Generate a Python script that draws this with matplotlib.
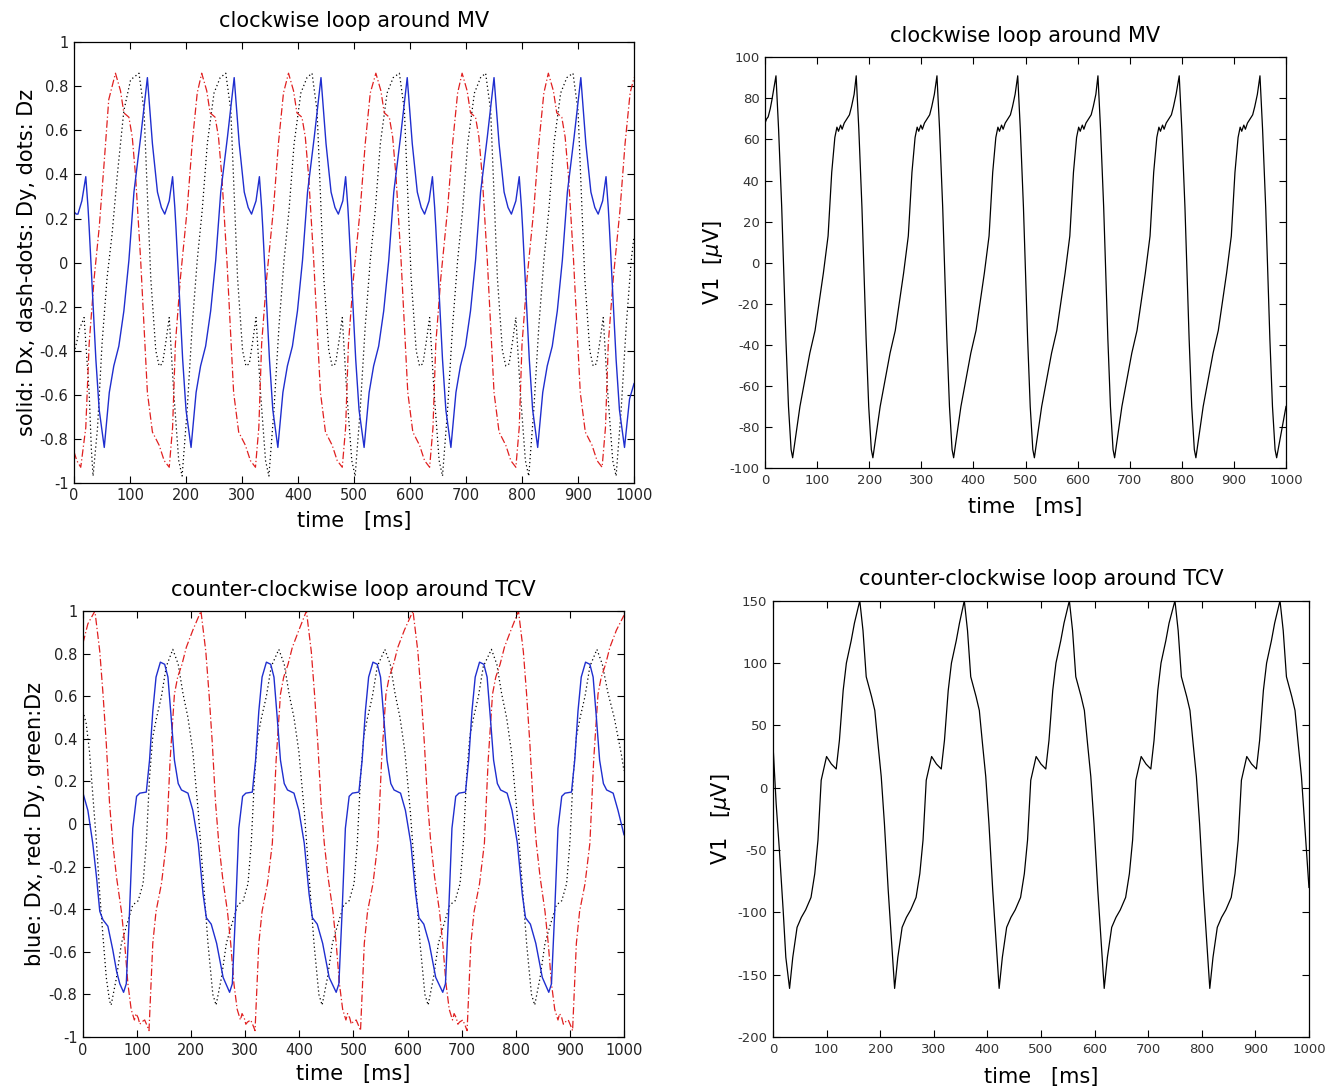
import matplotlib.pyplot as plt

plt.rcParams['font.family'] = 'DejaVu Sans'
plt.rcParams['axes.unicode_minus'] = False

# ---- clockwise loop around MV (top row) ----
tl_dx_t = [0, 4, 7, 14,
           21, 25, 27, 33, 39, 45, 54, 63, 71, 80, 89, 98, 107, 119, 131, 140, 149, 156, 162, 170,
           176, 180, 182, 188, 194, 200, 209, 218, 226, 235, 244, 253, 262, 274, 286, 295, 304, 311, 317, 325,
           331, 335, 337, 343, 349, 355, 364, 373, 381, 390, 399, 408, 417, 429, 441, 450, 459, 466, 472, 480,
           485, 489, 491, 497, 503, 509, 518, 527, 535, 544, 553, 562, 571, 583, 595, 604, 613, 620, 626, 634,
           640, 644, 646, 652, 658, 664, 673, 682, 690, 699, 708, 717, 726, 738, 750, 759, 768, 775, 781, 789,
           795, 799, 801, 807, 813, 819, 828, 837, 845, 854, 863, 872, 881, 893, 905, 914, 923, 930, 936, 944,
           950, 954, 956, 962, 968, 974, 983, 992, 1000]
tl_dx_v = [0.23, 0.22, 0.22, 0.28,
           0.39, 0.25, 0.16, -0.14, -0.44, -0.67, -0.84, -0.59, -0.47, -0.38, -0.22, 0.01, 0.32, 0.57, 0.84, 0.54, 0.32, 0.25, 0.22, 0.28,
           0.39, 0.25, 0.16, -0.14, -0.44, -0.67, -0.84, -0.59, -0.47, -0.38, -0.22, 0.01, 0.32, 0.57, 0.84, 0.54, 0.32, 0.25, 0.22, 0.28,
           0.39, 0.25, 0.16, -0.14, -0.44, -0.67, -0.84, -0.59, -0.47, -0.38, -0.22, 0.01, 0.32, 0.57, 0.84, 0.54, 0.32, 0.25, 0.22, 0.28,
           0.39, 0.25, 0.16, -0.14, -0.44, -0.67, -0.84, -0.59, -0.47, -0.38, -0.22, 0.01, 0.32, 0.57, 0.84, 0.54, 0.32, 0.25, 0.22, 0.28,
           0.39, 0.25, 0.16, -0.14, -0.44, -0.67, -0.84, -0.59, -0.47, -0.38, -0.22, 0.01, 0.32, 0.57, 0.84, 0.54, 0.32, 0.25, 0.22, 0.28,
           0.39, 0.25, 0.16, -0.14, -0.44, -0.67, -0.84, -0.59, -0.47, -0.38, -0.22, 0.01, 0.32, 0.57, 0.84, 0.54, 0.32, 0.25, 0.22, 0.28,
           0.39, 0.25, 0.16, -0.14, -0.44, -0.67, -0.84, -0.62, -0.55]

tl_dy_t = [0, 5, 12, 21, 27, 36, 45, 54, 62,
           74, 83, 89, 98, 104, 110, 119, 125, 131, 140, 152, 161, 170, 176, 181, 190, 202, 211, 220,
           228, 237, 243, 252, 258, 264, 273, 279, 285, 294, 306, 315, 324, 330, 335, 344, 356, 365, 374,
           383, 392, 398, 407, 413, 419, 428, 434, 440, 449, 461, 470, 479, 485, 490, 499, 511, 520, 529,
           539, 548, 554, 563, 569, 575, 584, 590, 596, 605, 617, 626, 635, 641, 646, 655, 667, 676, 685,
           693, 702, 708, 717, 723, 729, 738, 744, 750, 759, 771, 780, 789, 795, 800, 809, 821, 830, 839,
           847, 856, 862, 871, 877, 883, 892, 898, 904, 913, 925, 934, 943, 949, 954, 963, 975, 984, 993, 1000]
tl_dy_v = [-0.86, -0.90, -0.93, -0.75, -0.37, -0.07, 0.16, 0.46, 0.74,
           0.86, 0.78, 0.68, 0.66, 0.57, 0.39, 0.01, -0.29, -0.59, -0.77, -0.83, -0.90, -0.93, -0.75, -0.37, -0.07, 0.24, 0.54, 0.77,
           0.86, 0.78, 0.68, 0.66, 0.57, 0.39, 0.01, -0.29, -0.59, -0.77, -0.83, -0.90, -0.93, -0.75, -0.37, -0.07, 0.24, 0.54, 0.77,
           0.86, 0.78, 0.68, 0.66, 0.57, 0.39, 0.01, -0.29, -0.59, -0.77, -0.83, -0.90, -0.93, -0.75, -0.37, -0.07, 0.24, 0.54, 0.77,
           0.86, 0.78, 0.68, 0.66, 0.57, 0.39, 0.01, -0.29, -0.59, -0.77, -0.83, -0.90, -0.93, -0.75, -0.37, -0.07, 0.24, 0.54, 0.77,
           0.86, 0.78, 0.68, 0.66, 0.57, 0.39, 0.01, -0.29, -0.59, -0.77, -0.83, -0.90, -0.93, -0.75, -0.37, -0.07, 0.24, 0.54, 0.77,
           0.86, 0.78, 0.68, 0.66, 0.57, 0.39, 0.01, -0.29, -0.59, -0.77, -0.83, -0.90, -0.93, -0.75, -0.37, -0.07, 0.24, 0.54, 0.77, 0.84]

tl_dz_t = [0, 5, 10, 18, 27, 31, 34, 42, 50, 59, 68, 77, 89, 101,
           116, 125, 131, 137, 146, 152, 158, 164, 170, 178, 187, 193, 202, 211, 220, 229, 238, 250, 261,
           271, 280, 286, 292, 301, 307, 313, 319, 325, 333, 342, 348, 357, 366, 375, 384, 393, 405, 416,
           425, 434, 440, 446, 455, 461, 467, 473, 479, 487, 496, 502, 511, 520, 529, 538, 547, 559, 570,
           581, 590, 596, 602, 611, 617, 623, 629, 635, 643, 652, 658, 667, 676, 685, 694, 703, 715, 726,
           735, 744, 750, 756, 765, 771, 777, 783, 789, 797, 806, 812, 821, 830, 839, 848, 857, 869, 880,
           891, 900, 906, 912, 921, 927, 933, 939, 945, 953, 962, 968, 977, 986, 995, 1000]
tl_dz_v = [-0.41, -0.36, -0.30, -0.25, -0.59, -0.85, -0.97, -0.75, -0.37, -0.07, 0.13, 0.39, 0.69, 0.83,
           0.86, 0.69, 0.31, -0.07, -0.40, -0.47, -0.46, -0.36, -0.25, -0.59, -0.90, -0.97, -0.67, -0.29, 0.01, 0.24, 0.54, 0.77, 0.84,
           0.86, 0.69, 0.31, -0.07, -0.40, -0.47, -0.46, -0.36, -0.25, -0.59, -0.90, -0.97, -0.67, -0.29, 0.01, 0.24, 0.54, 0.77, 0.84,
           0.86, 0.69, 0.31, -0.07, -0.40, -0.47, -0.46, -0.36, -0.25, -0.59, -0.90, -0.97, -0.67, -0.29, 0.01, 0.24, 0.54, 0.77, 0.84,
           0.86, 0.69, 0.31, -0.07, -0.40, -0.47, -0.46, -0.36, -0.25, -0.59, -0.90, -0.97, -0.67, -0.29, 0.01, 0.24, 0.54, 0.77, 0.84,
           0.86, 0.69, 0.31, -0.07, -0.40, -0.47, -0.46, -0.36, -0.25, -0.59, -0.90, -0.97, -0.67, -0.29, 0.01, 0.24, 0.54, 0.77, 0.84,
           0.86, 0.69, 0.31, -0.07, -0.40, -0.47, -0.46, -0.36, -0.25, -0.59, -0.90, -0.97, -0.67, -0.29, 0.01, 0.12]

tr_v1_t = [0, 3, 6, 10, 13, 17,
           21, 26, 32, 36, 40, 45, 50, 53, 67, 86, 96, 112, 121, 128, 134, 138, 141, 145, 148, 152, 157, 162, 166, 171,
           175, 180, 186, 190, 194, 199, 204, 207, 221, 240, 250, 266, 275, 282, 288, 292, 295, 299, 302, 306, 311, 316, 320, 325,
           330, 335, 341, 345, 349, 354, 359, 362, 376, 395, 405, 421, 430, 437, 443, 447, 450, 454, 457, 461, 466, 471, 475, 480,
           485, 490, 496, 500, 504, 509, 514, 517, 531, 550, 560, 576, 585, 592, 598, 602, 605, 609, 612, 616, 621, 626, 630, 635,
           639, 644, 650, 654, 658, 663, 668, 671, 685, 704, 714, 730, 739, 746, 752, 756, 759, 763, 766, 770, 775, 780, 784, 789,
           795, 800, 806, 810, 814, 819, 824, 827, 841, 860, 870, 886, 895, 902, 908, 912, 915, 919, 922, 926, 931, 936, 940, 945,
           950, 955, 961, 965, 969, 974, 979, 982, 990, 996, 1000]
tr_v1_v = [68, 70, 71, 75, 79, 85,
           91, 65, 27, -5, -37, -70, -91, -95, -70, -44, -33, -5, 13, 44, 61, 66, 64, 67, 65, 68, 70, 72, 76, 82,
           91, 65, 27, -5, -37, -70, -91, -95, -70, -44, -33, -5, 13, 44, 61, 66, 64, 67, 65, 68, 70, 72, 76, 82,
           91, 65, 27, -5, -37, -70, -91, -95, -70, -44, -33, -5, 13, 44, 61, 66, 64, 67, 65, 68, 70, 72, 76, 82,
           91, 65, 27, -5, -37, -70, -91, -95, -70, -44, -33, -5, 13, 44, 61, 66, 64, 67, 65, 68, 70, 72, 76, 82,
           91, 65, 27, -5, -37, -70, -91, -95, -70, -44, -33, -5, 13, 44, 61, 66, 64, 67, 65, 68, 70, 72, 76, 82,
           91, 65, 27, -5, -37, -70, -91, -95, -70, -44, -33, -5, 13, 44, 61, 66, 64, 67, 65, 68, 70, 72, 76, 82,
           91, 65, 27, -5, -37, -70, -91, -95, -84, -76, -70]

# ---- counter-clockwise loop around TCV (bottom row) ----
bl_dx_t = [0, 9, 18, 25, 31, 37, 46, 55, 62, 68,
           75, 80, 86, 92, 99, 105, 117, 123, 129, 135, 143, 151, 157, 163, 169, 176, 182, 194, 203, 213, 222, 228, 237, 247, 259,
           271, 276, 282, 288, 295, 301, 313, 319, 325, 331, 339, 347, 353, 359, 365, 372, 378, 390, 399, 409, 418, 424, 433, 443, 455,
           468, 473, 479, 485, 492, 498, 510, 516, 522, 528, 536, 544, 550, 556, 562, 569, 575, 587, 596, 606, 615, 621, 630, 640, 652,
           665, 670, 676, 682, 689, 695, 707, 713, 719, 725, 733, 741, 747, 753, 759, 766, 772, 784, 793, 803, 812, 818, 827, 837, 849,
           861, 866, 872, 878, 885, 891, 903, 909, 915, 921, 929, 937, 943, 949, 955, 962, 968, 980, 989, 1000]
bl_dx_v = [0.145, 0.064, -0.09, -0.25, -0.41, -0.45, -0.48, -0.59, -0.69, -0.75,
           -0.79, -0.75, -0.41, -0.02, 0.13, 0.145, 0.15, 0.30, 0.53, 0.69, 0.76, 0.75, 0.69, 0.50, 0.30, 0.19, 0.16, 0.145, 0.064, -0.09, -0.33, -0.44, -0.47, -0.56, -0.72,
           -0.79, -0.75, -0.41, -0.02, 0.13, 0.145, 0.15, 0.30, 0.53, 0.69, 0.76, 0.75, 0.69, 0.50, 0.30, 0.19, 0.16, 0.145, 0.064, -0.09, -0.33, -0.44, -0.47, -0.56, -0.72,
           -0.79, -0.75, -0.41, -0.02, 0.13, 0.145, 0.15, 0.30, 0.53, 0.69, 0.76, 0.75, 0.69, 0.50, 0.30, 0.19, 0.16, 0.145, 0.064, -0.09, -0.33, -0.44, -0.47, -0.56, -0.72,
           -0.79, -0.75, -0.41, -0.02, 0.13, 0.145, 0.15, 0.30, 0.53, 0.69, 0.76, 0.75, 0.69, 0.50, 0.30, 0.19, 0.16, 0.145, 0.064, -0.09, -0.33, -0.44, -0.47, -0.56, -0.72,
           -0.79, -0.75, -0.41, -0.02, 0.13, 0.145, 0.15, 0.30, 0.53, 0.69, 0.76, 0.75, 0.69, 0.50, 0.30, 0.19, 0.16, 0.145, 0.064, -0.05]

bl_dy_t = [0, 9,
           22, 31, 37, 43, 49, 55, 62, 71, 77, 83, 89, 95, 98, 102, 105, 108, 114, 119, 122, 129, 135, 145, 154, 161, 169, 175, 183, 191, 203,
           218, 227, 233, 239, 245, 251, 258, 267, 273, 279, 285, 291, 294, 298, 301, 304, 310, 315, 318, 325, 331, 341, 350, 357, 365, 371, 379, 387, 399,
           413, 422, 428, 434, 440, 446, 453, 462, 468, 474, 480, 486, 489, 493, 496, 499, 505, 510, 513, 520, 526, 536, 545, 552, 560, 566, 574, 582, 594,
           610, 619, 625, 631, 637, 643, 650, 659, 665, 671, 677, 683, 686, 690, 693, 696, 702, 707, 710, 717, 723, 733, 742, 749, 757, 763, 771, 779, 791,
           805, 814, 820, 826, 832, 838, 845, 854, 860, 866, 872, 878, 881, 885, 888, 891, 897, 902, 905, 912, 918, 928, 937, 944, 952, 958, 966, 974, 986, 1000]
bl_dy_v = [0.85, 0.94,
           1.0, 0.81, 0.61, 0.38, 0.10, -0.09, -0.25, -0.41, -0.56, -0.75, -0.87, -0.92, -0.89, -0.91, -0.94, -0.93, -0.92, -0.95, -0.97, -0.56, -0.41, -0.28, -0.09, 0.30, 0.61, 0.69, 0.75, 0.83, 0.91,
           1.0, 0.81, 0.61, 0.38, 0.10, -0.09, -0.25, -0.41, -0.56, -0.75, -0.87, -0.92, -0.89, -0.91, -0.94, -0.93, -0.92, -0.95, -0.97, -0.56, -0.41, -0.28, -0.09, 0.30, 0.61, 0.69, 0.75, 0.83, 0.91,
           1.0, 0.81, 0.61, 0.38, 0.10, -0.09, -0.25, -0.41, -0.56, -0.75, -0.87, -0.92, -0.89, -0.91, -0.94, -0.93, -0.92, -0.95, -0.97, -0.56, -0.41, -0.28, -0.09, 0.30, 0.61, 0.69, 0.75, 0.83, 0.91,
           1.0, 0.81, 0.61, 0.38, 0.10, -0.09, -0.25, -0.41, -0.56, -0.75, -0.87, -0.92, -0.89, -0.91, -0.94, -0.93, -0.92, -0.95, -0.97, -0.56, -0.41, -0.28, -0.09, 0.30, 0.61, 0.69, 0.75, 0.83, 0.91,
           1.0, 0.81, 0.61, 0.38, 0.10, -0.09, -0.25, -0.41, -0.56, -0.75, -0.87, -0.92, -0.89, -0.91, -0.94, -0.93, -0.92, -0.95, -0.97, -0.56, -0.41, -0.28, -0.09, 0.30, 0.61, 0.69, 0.75, 0.83, 0.91, 0.98]

bl_dz_t = [0, 6, 12, 18, 25, 31, 37, 43, 49, 52, 62, 71, 80, 92, 102, 111, 117, 123, 129, 136, 145, 154,
           166, 176, 185, 194, 203, 213, 222, 231, 240, 246, 256, 265, 274, 286, 296, 305, 311, 317, 323, 330, 339, 348,
           362, 372, 381, 390, 399, 409, 418, 427, 436, 442, 452, 461, 470, 482, 492, 501, 507, 513, 519, 526, 535, 544,
           558, 568, 577, 586, 595, 605, 614, 623, 632, 638, 648, 657, 666, 678, 688, 697, 703, 709, 715, 722, 731, 740,
           755, 765, 774, 783, 792, 802, 811, 820, 829, 835, 845, 854, 863, 875, 885, 894, 900, 906, 912, 919, 928, 937,
           950, 960, 970, 982, 995, 1000]
bl_dz_v = [0.53, 0.47, 0.34, 0.14, -0.09, -0.33, -0.53, -0.72, -0.83, -0.85, -0.72, -0.56, -0.48, -0.38, -0.36, -0.28, -0.09, 0.22, 0.41, 0.50, 0.60, 0.74,
           0.82, 0.75, 0.61, 0.50, 0.34, 0.06, -0.25, -0.56, -0.80, -0.85, -0.72, -0.56, -0.48, -0.38, -0.36, -0.28, -0.09, 0.22, 0.41, 0.50, 0.60, 0.74,
           0.82, 0.75, 0.61, 0.50, 0.34, 0.06, -0.25, -0.56, -0.80, -0.85, -0.72, -0.56, -0.48, -0.38, -0.36, -0.28, -0.09, 0.22, 0.41, 0.50, 0.60, 0.74,
           0.82, 0.75, 0.61, 0.50, 0.34, 0.06, -0.25, -0.56, -0.80, -0.85, -0.72, -0.56, -0.48, -0.38, -0.36, -0.28, -0.09, 0.22, 0.41, 0.50, 0.60, 0.74,
           0.82, 0.75, 0.61, 0.50, 0.34, 0.06, -0.25, -0.56, -0.80, -0.85, -0.72, -0.56, -0.48, -0.38, -0.36, -0.28, -0.09, 0.22, 0.41, 0.50, 0.60, 0.74,
           0.82, 0.75, 0.62, 0.50, 0.33, 0.25]

br_v1_t = [0, 6, 12, 19, 24, 31, 37, 45, 53, 61, 71, 78, 84, 90, 100, 109, 118, 124, 131, 137, 146, 152,
           162, 168, 174, 184, 190, 196, 202, 208, 215, 221, 227, 233, 241, 249, 257, 267, 274, 280, 286, 296, 305, 314, 320, 327, 333, 342, 348,
           357, 363, 369, 379, 385, 391, 397, 403, 410, 416, 422, 428, 436, 444, 452, 462, 469, 475, 481, 491, 500, 509, 515, 522, 528, 537, 543,
           553, 559, 565, 575, 581, 587, 593, 599, 606, 612, 618, 624, 632, 640, 648, 658, 665, 671, 677, 687, 696, 705, 711, 718, 724, 733, 739,
           750, 756, 762, 772, 778, 784, 790, 796, 803, 809, 815, 821, 829, 837, 845, 855, 862, 868, 874, 884, 893, 902, 908, 915, 921, 930, 936,
           946, 952, 958, 968, 974, 980, 986, 992, 1000]
br_v1_v = [35, -13, -50, -98, -136, -161, -136, -112, -104, -98, -88, -69, -42, 6, 25, 19, 15, 38, 78, 100, 118, 132,
           150, 126, 89, 73, 62, 35, 9, -29, -82, -122, -161, -136, -112, -104, -98, -88, -69, -42, 6, 25, 19, 15, 38, 78, 100, 118, 132,
           150, 126, 89, 73, 62, 35, 9, -29, -82, -122, -161, -136, -112, -104, -98, -88, -69, -42, 6, 25, 19, 15, 38, 78, 100, 118, 132,
           150, 126, 89, 73, 62, 35, 9, -29, -82, -122, -161, -136, -112, -104, -98, -88, -69, -42, 6, 25, 19, 15, 38, 78, 100, 118, 132,
           150, 126, 89, 73, 62, 35, 9, -29, -82, -122, -161, -136, -112, -104, -98, -88, -69, -42, 6, 25, 19, 15, 38, 78, 100, 118, 132,
           150, 126, 89, 73, 62, 35, 9, -29, -80]

x_ticks = [0, 100, 200, 300, 400, 500, 600, 700, 800, 900, 1000]
d_ticks = [-1, -0.8, -0.6, -0.4, -0.2, 0, 0.2, 0.4, 0.6, 0.8, 1]
d_labels = ['-1', '-0.8', '-0.6', '-0.4', '-0.2', '0', '0.2', '0.4', '0.6', '0.8', '1']
mv_ticks = [-100, -80, -60, -40, -20, 0, 20, 40, 60, 80, 100]
tcv_ticks = [-200, -150, -100, -50, 0, 50, 100, 150]

blue = '#1f2ecf'
red = '#e02020'

fig = plt.figure(figsize=(13.41, 10.90), dpi=100)
ax_tl = fig.add_axes([0.0552, 0.5572, 0.4176, 0.4039])
ax_tr = fig.add_axes([0.5705, 0.5706, 0.3885, 0.3768])
ax_bl = fig.add_axes([0.0619, 0.0486, 0.4034, 0.3908])
ax_br = fig.add_axes([0.5764, 0.0486, 0.3997, 0.4003])


def style(ax, yticks, ylabels, ylim, fs, lc, xlab_y, ylab_x, ylabel):
    ax.set_xlim(0, 1000)
    ax.set_ylim(*ylim)
    ax.set_xticks(x_ticks)
    ax.set_xticklabels([str(v) for v in x_ticks])
    ax.set_yticks(yticks)
    ax.set_yticklabels(ylabels)
    ax.tick_params(direction='in', top=True, right=True, length=5, width=0.8,
                   labelsize=fs, pad=4, labelcolor=lc)
    for s in ax.spines.values():
        s.set_linewidth(0.9)
    ax.set_xlabel('time   [ms]', fontsize=15)
    ax.xaxis.set_label_coords(0.5, xlab_y)
    ax.set_ylabel(ylabel, fontsize=15)
    ax.yaxis.set_label_coords(ylab_x, 0.5)


# top left: dipole components
ax_tl.plot(tl_dz_t, tl_dz_v, color='black', lw=0.9, dashes=(1, 2.2))
ax_tl.plot(tl_dy_t, tl_dy_v, color=red, lw=0.9, dashes=(6, 2, 1, 2))
ax_tl.plot(tl_dx_t, tl_dx_v, color=blue, lw=1.0)
ax_tl.set_title('clockwise loop around MV', fontsize=15, pad=11)
style(ax_tl, d_ticks, d_labels, (-1, 1), 10.5, '#222222', -0.065, -0.066,
      'solid: Dx, dash-dots: Dy, dots: Dz')

# top right: V1 lead
ax_tr.plot(tr_v1_t, tr_v1_v, color='black', lw=0.9)
ax_tr.set_title('clockwise loop around MV', fontsize=15, pad=11)
style(ax_tr, mv_ticks, [str(v) for v in mv_ticks], (-100, 100), 9.5, '#333333', -0.07, -0.077,
      r'V1  [$\mu$V]')

# bottom left: dipole components
ax_bl.plot(bl_dz_t, bl_dz_v, color='black', lw=0.9, dashes=(1, 2.2))
ax_bl.plot(bl_dy_t, bl_dy_v, color=red, lw=0.9, dashes=(6, 2, 1, 2))
ax_bl.plot(bl_dx_t, bl_dx_v, color=blue, lw=1.0)
ax_bl.set_title('counter-clockwise loop around TCV', fontsize=15, pad=11)
style(ax_bl, d_ticks, d_labels, (-1, 1), 10.5, '#222222', -0.063, -0.070,
      'blue: Dx, red: Dy, green:Dz')

# bottom right: V1 lead
ax_br.plot(br_v1_t, br_v1_v, color='black', lw=0.9)
ax_br.set_title('counter-clockwise loop around TCV', fontsize=15, pad=11)
style(ax_br, tcv_ticks, [str(v) for v in tcv_ticks], (-200, 150), 9.5, '#333333', -0.068, -0.075,
      r'V1   [$\mu$V]')

fig.savefig('out.png', dpi=100, facecolor='white')
